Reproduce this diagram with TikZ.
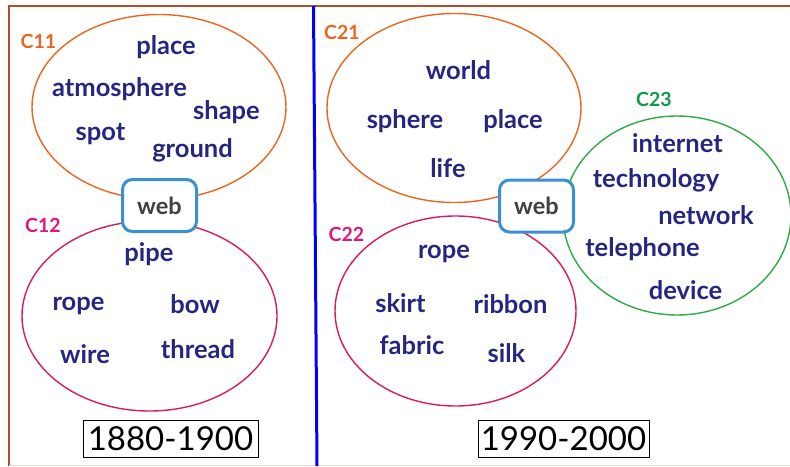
\documentclass[tikz,border=0pt]{standalone}
\usepackage{fontspec}
\setmainfont{Lato}
\usepackage{tikz}
\usetikzlibrary{shapes.geometric}
\definecolor{frameborwn}{HTML}{B0502A}
\definecolor{orangec}{HTML}{E8661E}
\definecolor{crimsonc}{HTML}{D81C5A}
\definecolor{magentac}{HTML}{E0167C}
\definecolor{greenc}{HTML}{2EAA48}
\definecolor{greenlab}{HTML}{109A48}
\definecolor{navyw}{HTML}{262680}
\definecolor{webblue}{HTML}{3A90D0}
\tikzstyle{cluster}=[draw, ellipse, line width=1.4pt, inner sep=0pt]
\tikzstyle{clabel}=[font=\fontsize{19.5}{22}\selectfont\bfseries]
\tikzstyle{term}=[text=navyw, font=\fontsize{25.5}{28}\selectfont\bfseries,
  inner sep=0pt]
\tikzstyle{webbox}=[draw=webblue, line width=3pt, rounded corners=10pt,
  fill=white, text=black!75, minimum width=74pt, minimum height=52pt,
  font=\fontsize{23.5}{27}\selectfont\bfseries]
\tikzstyle{period}=[draw, thin, inner sep=2pt, minimum height=37pt,
  font=\fontsize{33}{36}\selectfont]
\newcommand{\termnode}[2]{node (#1) [term] {#2}}

\begin{document}
\begin{tikzpicture}[x=1pt, y=-1pt]
  \useasboundingbox (0,0) rectangle (790,466);

  % frame and separator
  \draw[frameborwn, line width=2pt] (9,466) -- (9,6) -- (792,6);
  \draw[frameborwn!20, line width=1pt] (9,465) -- (792,465);
  \draw[blue, line width=3pt] (313.5,6) -- (317,466);

  % clusters
  \node (C11) [cluster, draw=orangec, minimum width=254pt, minimum height=185pt] at (159,107) {};
  \node (C12) [cluster, draw=crimsonc, minimum width=255pt, minimum height=190pt] at (149.5,316) {};
  \node (C21) [cluster, draw=orangec, minimum width=254pt, minimum height=189pt] at (454,108) {};
  \node (C22) [cluster, draw=crimsonc, minimum width=241pt, minimum height=190pt] at (455.5,311) {};
  \node (C23) [cluster, draw=greenc, minimum width=228pt, minimum height=199pt] at (677,215.5) {};

  % cluster labels
  \node (L11) [clabel, text=orangec] at (38.5,41) {C11};
  \node (L12) [clabel, text=magentac] at (43,225) {C12};
  \node (L21) [clabel, text=orangec] at (342,32) {C21};
  \node (L22) [clabel, text=magentac] at (346.5,234.5) {C22};
  \node (L23) [clabel, text=greenlab] at (654,99.5) {C23};

  % shared word
  \node (WEB1) [webbox] at (159.5,205.5) {web};
  \node (WEB2) [webbox] at (536.5,206) {web};

  % 1880-1900 terms
  \path (C11.center)+(7,-60) \termnode{place}{place};
  \path (C11.center)+(-39.5,-18) \termnode{atmosphere}{atmosphere};
  \path (C11.center)+(67.5,5) \termnode{shape}{shape};
  \path (C11.center)+(-58.5,27) \termnode{spot}{spot};
  \path (C11.center)+(33.5,43) \termnode{ground}{ground};
  \path (C12.center)+(-0.5,-62) \termnode{pipe}{pipe};
  \path (C12.center)+(-71,-10) \termnode{rope1}{rope};
  \path (C12.center)+(45.5,-12) \termnode{bow}{bow};
  \path (C12.center)+(-64.5,38) \termnode{wire}{wire};
  \path (C12.center)+(48.5,33) \termnode{thread}{thread};

  % 1990-2000 terms
  \path (C21.center)+(4.5,-38) \termnode{world}{world};
  \path (C21.center)+(-49,13) \termnode{sphere}{sphere};
  \path (C21.center)+(59,13) \termnode{place2}{place};
  \path (C21.center)+(-6,60) \termnode{life}{life};
  \path (C22.center)+(-11.5,-57) \termnode{rope2}{rope};
  \path (C22.center)+(-55,-8) \termnode{skirt}{skirt};
  \path (C22.center)+(55,-7) \termnode{ribbon}{ribbon};
  \path (C22.center)+(-43.5,34) \termnode{fabric}{fabric};
  \path (C22.center)+(51,42) \termnode{silk}{silk};
  \path (C23.center)+(0.5,-72.5) \termnode{internet}{internet};
  \path (C23.center)+(-21,-35.5) \termnode{technology}{technology};
  \path (C23.center)+(29,-0.5) \termnode{network}{network};
  \path (C23.center)+(-34.5,33.5) \termnode{telephone}{telephone};
  \path (C23.center)+(8.5,74.5) \termnode{device}{device};

  % periods
  \node (P1) [period, minimum width=175pt] at (170.5,438.5) {1880-1900};
  \node (P2) [period, minimum width=171pt] at (563.5,439) {1990-2000};
\end{tikzpicture}
\end{document}
